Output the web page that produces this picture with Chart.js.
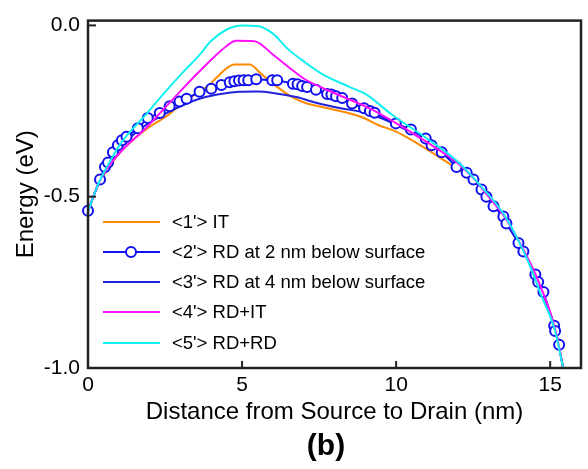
<!DOCTYPE html>
<html>
<head>
<meta charset="utf-8">
<script src="https://cdn.jsdelivr.net/npm/chart.js@4"></script>
<style>
  body { margin: 0; background: #fff; }
  canvas { display: block; }
</style>
</head>
<body>
<canvas id="myChart" width="588" height="469"></canvas>
<script>
// tick values
var xTicks = [0, 5, 10, 15];
var yTicks = [-1.0, -0.5, 0.0];

var legendLabels = ["<1'> IT", "<2'> RD at 2 nm below surface", "<3'> RD at 4 nm below surface", "<4'> RD+IT", "<5'> RD+RD"];

// <1'> IT
var itX = [0, 0.3, 0.6, 1.0, 1.45, 2.1, 2.6, 3.0, 3.5, 3.85, 4.2, 4.5, 4.75, 5.25, 5.6, 6.0, 6.6, 7.1, 7.6, 8.9, 9.4, 10.0, 10.7, 11.9, 12.5, 13.0, 13.5, 14.0, 14.5, 15.0, 15.2, 15.42];
var itY = [-0.544, -0.47, -0.425, -0.375, -0.335, -0.29, -0.262, -0.232, -0.2, -0.18, -0.15, -0.125, -0.114, -0.114, -0.14, -0.17, -0.208, -0.228, -0.238, -0.268, -0.29, -0.31, -0.345, -0.414, -0.45, -0.503, -0.56, -0.635, -0.725, -0.84, -0.9, -1.0];

// <2'> RD at 2 nm (circles)
var rd2X = [0, 0.39, 0.55, 0.65, 0.81, 0.97, 1.1, 1.25, 1.62, 1.94, 2.33, 2.65, 2.97, 3.2, 3.62, 4.0, 4.33, 4.6, 4.75, 4.9, 5.05, 5.2, 5.46, 5.98, 6.14, 6.65, 6.8, 6.95, 7.11, 7.4, 7.76, 7.9, 8.05, 8.25, 8.57, 8.96, 9.15, 9.3, 9.99, 10.48, 10.96, 11.15, 11.48, 11.96, 12.29, 12.51, 12.77, 12.93, 13.16, 13.48, 13.58, 13.97, 14.13, 14.52, 14.61, 14.78, 15.13, 15.16, 15.29];
var rd2Y = [-0.541, -0.45, -0.413, -0.4, -0.37, -0.35, -0.335, -0.325, -0.3, -0.27, -0.256, -0.236, -0.222, -0.214, -0.194, -0.185, -0.174, -0.166, -0.163, -0.161, -0.16, -0.16, -0.157, -0.16, -0.16, -0.17, -0.172, -0.177, -0.18, -0.188, -0.2, -0.202, -0.207, -0.212, -0.228, -0.242, -0.25, -0.255, -0.286, -0.304, -0.33, -0.35, -0.37, -0.413, -0.43, -0.45, -0.479, -0.5, -0.528, -0.558, -0.578, -0.635, -0.66, -0.727, -0.749, -0.778, -0.877, -0.892, -0.932];

// <3'> RD at 4 nm
var rd4X = [0, 0.3, 0.6, 1.0, 1.7, 2.5, 3.0, 3.6, 4.2, 4.9, 5.5, 6.0, 6.8, 7.4, 8.2, 9.0, 10.0, 11.0, 12.0, 12.5, 13.0, 13.5, 14.0, 14.5, 15.0, 15.2, 15.42];
var rd4Y = [-0.544, -0.47, -0.42, -0.362, -0.302, -0.258, -0.236, -0.215, -0.202, -0.194, -0.193, -0.197, -0.21, -0.226, -0.242, -0.255, -0.29, -0.34, -0.405, -0.448, -0.503, -0.56, -0.635, -0.725, -0.84, -0.9, -1.0];

// <4'> RD+IT
var rdItX = [0, 0.3, 0.6, 1.1, 1.9, 2.5, 3.0, 3.5, 4.0, 4.5, 4.8, 5.4, 6.0, 6.6, 7.0, 7.8, 9.2, 10.6, 11.5, 12.0, 12.5, 13.0, 13.5, 14.0, 14.5, 15.0, 15.2, 15.42];
var rdItY = [-0.544, -0.47, -0.42, -0.365, -0.298, -0.24, -0.192, -0.145, -0.1, -0.06, -0.045, -0.046, -0.085, -0.128, -0.155, -0.19, -0.245, -0.318, -0.37, -0.402, -0.445, -0.5, -0.556, -0.632, -0.722, -0.838, -0.9, -1.0];

// <5'> RD+RD
var rdRdX = [0, 0.3, 0.6, 1.1, 1.9, 2.5, 3.1, 3.6, 4.0, 4.5, 5.0, 5.5, 6.0, 6.5, 7.0, 7.6, 8.5, 9.0, 9.9, 11.0, 12.0, 12.8, 13.5, 14.3, 14.7, 15.16, 15.42];
var rdRdY = [-0.544, -0.47, -0.415, -0.34, -0.258, -0.195, -0.135, -0.088, -0.045, -0.012, 0.0, -0.002, -0.024, -0.07, -0.105, -0.142, -0.18, -0.2, -0.263, -0.33, -0.398, -0.474, -0.552, -0.692, -0.786, -0.892, -1.0];

var colores = ['#ff8a00', '#1010f0', '#2222dd', '#ff10ff', '#10f0f0'];
var fontName = "Arial, 'Liberation Sans', sans-serif";

function pts(xs, ys){
    return xs.map(function(x, i){ return {x: x, y: ys[i]}; });
}

function serie(label, xs, ys, color, order){
    return {
        label: label,
        data: pts(xs, ys),
        showLine: true,
        borderColor: color,
        backgroundColor: color,
        borderWidth: 2,
        pointRadius: 0,
        cubicInterpolationMode: 'monotone',
        clip: false,
        order: order
    };
}

var circulos = serie(legendLabels[1], rd2X, rd2Y, colores[1], 2);
circulos.pointRadius = 5;
circulos.pointBorderWidth = 2;
circulos.pointBackgroundColor = '#ffffff';
circulos.pointBorderColor = colores[1];
circulos.cubicInterpolationMode = 'default';
circulos.tension = 0;

var datasets = [
    serie(legendLabels[0], itX, itY, colores[0], 4),
    circulos,
    serie(legendLabels[2], rd4X, rd4Y, colores[2], 3),
    serie(legendLabels[3], rdItX, rdItY, colores[3], 1),
    serie(legendLabels[4], rdRdX, rdRdY, colores[4], 0)
];

// frame, inward ticks, titles and legend
var marco = {
    id: 'marco',
    afterDraw: function(chart){
        var c = chart.ctx;
        var a = chart.chartArea;
        var sx = chart.scales.x, sy = chart.scales.y;
        c.save();
        c.strokeStyle = '#222';
        c.lineWidth = 2.5;
        c.strokeRect(a.left, a.top, a.right - a.left, a.bottom - a.top);
        c.lineWidth = 2;
        yTicks.forEach(function(v){
            var p = sy.getPixelForValue(v);
            c.beginPath(); c.moveTo(a.left, p); c.lineTo(a.left + 8, p); c.stroke();
        });
        xTicks.forEach(function(v){
            var p = sx.getPixelForValue(v);
            c.beginPath(); c.moveTo(p, a.bottom); c.lineTo(p, a.bottom - 7); c.stroke();
        });

        c.fillStyle = '#000';
        c.textAlign = 'center';
        c.textBaseline = 'middle';
        c.font = '24px ' + fontName;
        c.fillText('Distance from Source to Drain (nm)', (a.left + a.right) / 2, 412);
        c.font = 'bold 30px ' + fontName;
        c.fillText('(b)', 326, 447);
        c.save();
        c.translate(26, (a.top + a.bottom) / 2);
        c.rotate(-Math.PI / 2);
        c.font = '24px ' + fontName;
        c.fillText('Energy (eV)', 0, 0);
        c.restore();

        // legend
        c.textAlign = 'left';
        c.font = '18.5px ' + fontName;
        var rows = [222, 252, 282, 312, 343];
        legendLabels.forEach(function(txt, i){
            var y = rows[i];
            c.strokeStyle = colores[i];
            c.lineWidth = 2;
            c.beginPath(); c.moveTo(103, y); c.lineTo(160, y); c.stroke();
            if (i == 1) {
                c.beginPath();
                c.arc(131, y, 5, 0, Math.PI * 2);
                c.fillStyle = '#fff';
                c.fill();
                c.stroke();
            }
            c.fillStyle = '#000';
            c.fillText(txt, 172, y + 1);
        });
        c.restore();
    }
};

var ctx = document.getElementById('myChart').getContext('2d');
var myChart = new Chart(ctx, {
    type: 'scatter',
    data: { datasets: datasets },
    options: {
        responsive: false,
        animation: false,
        layout: { padding: { left: 0, right: 5, top: 12, bottom: 0 } },
        plugins: { legend: { display: false }, tooltip: { enabled: false } },
        scales: {
            x: {
                type: 'linear',
                min: 0,
                max: 16,
                afterBuildTicks: function(scale){
                    scale.ticks = xTicks.map(function(v){ return {value: v}; });
                },
                afterFit: function(scale){ scale.height = 101; },
                grid: { display: false, drawTicks: false },
                border: { display: false },
                ticks: { color: '#000', padding: 5, font: { size: 21, family: fontName } }
            },
            y: {
                min: -1,
                max: 0.014,
                afterBuildTicks: function(scale){
                    scale.ticks = yTicks.map(function(v){ return {value: v}; });
                },
                afterFit: function(scale){ scale.width = 88; },
                grid: { display: false, drawTicks: false },
                border: { display: false },
                ticks: {
                    color: '#000',
                    padding: 8,
                    font: { size: 21, family: fontName },
                    callback: function(v){ return Number(v).toFixed(1); }
                }
            }
        }
    },
    plugins: [marco]
});
</script>
</body>
</html>
